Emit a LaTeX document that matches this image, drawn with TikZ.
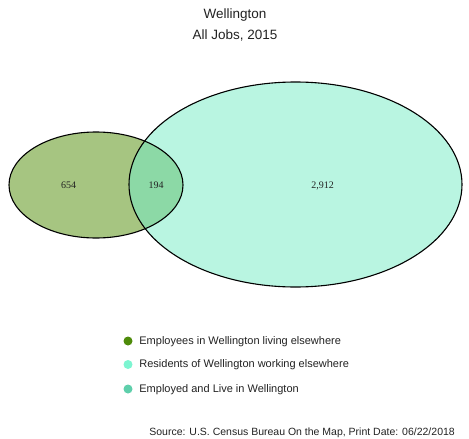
\documentclass[tikz,border=0pt]{standalone}
\usepackage{fontspec}
\setmainfont{Liberation Sans}
\newfontfamily\countfont{Liberation Serif}
\usepackage{tikz}
\usetikzlibrary{shapes.geometric,positioning}
\usepackage{xcolor}
\definecolor{wlolive}{HTML}{A6C581}
\definecolor{wlmint}{HTML}{B9F5E1}
\definecolor{wlboth}{HTML}{8CD9A6}
\definecolor{wldark}{HTML}{4E8B0A}
\definecolor{wllight}{HTML}{7DF5D1}
\definecolor{wlmid}{HTML}{5ECFAB}
\definecolor{wltext}{HTML}{222222}
\tikzstyle{venn} = [ellipse, inner sep=0pt, outer sep=0pt]
\tikzstyle{outline} = [draw=black, line width=1.1pt]
\tikzstyle{count} = [font=\countfont\fontsize{10}{12}\selectfont, text=wltext, inner sep=0pt]
\tikzstyle{heading} = [font=\fontsize{13.5}{16}\selectfont, text=wltext, inner sep=0pt, anchor=base]
\tikzstyle{dot} = [circle, minimum size=9pt, inner sep=0pt]
\tikzstyle{legend} = [font=\fontsize{11}{13}\selectfont, text=wltext, inner sep=0pt, text height=8pt, text depth=2pt]

\begin{document}
\begin{tikzpicture}[x=1pt, y=-1pt]
    \useasboundingbox (0,0) rectangle (469,439);
    % Title
    \node[heading] (place) at (235,19) {Wellington};
    \node[heading] (jobs) at (235,39) {All Jobs, 2015};

    % Ellipses
    \node[venn, fill=wlolive, minimum width=174pt, minimum height=106pt] (work) at (96,185) {};
    \node[venn, fill=wlmint, minimum width=333pt, minimum height=205pt] (home) at (295.5,184.5) {};
    \begin{scope}
        \clip (work.center) ellipse [x radius=87, y radius=53];
        \fill[wlboth] (home.center) ellipse [x radius=166.5, y radius=102.5];
    \end{scope}
    \draw[outline] (work.center) ellipse [x radius=87, y radius=53];
    \draw[outline] (home.center) ellipse [x radius=166.5, y radius=102.5];

    % Counts
    \node[count] (only) at (68.5,185.5) {654};
    \node[count] (both) at (156,185.5) {194};
    \node[count] (away) at (322.5,185.5) {2,912};

    % Legend
    \node[dot, fill=wldark] (dot1) at (128,341) {};
    \node[dot, fill=wllight] (dot2) at (128,364.5) {};
    \node[dot, fill=wlmid] (dot3) at (128,389) {};
    \node[legend, right=6.5pt of dot1] (lab1) {Employees in Wellington living elsewhere};
    \node[legend, right=6.5pt of dot2] (lab2) {Residents of Wellington working elsewhere};
    \node[legend, right=6.5pt of dot3] (lab3) {Employed and Live in Wellington};

    % Source
    \node[font=\fontsize{10.5}{12}\selectfont, text=wltext, inner sep=0pt, anchor=base east] (source) at (455,435) {Source: U.S. Census Bureau On the Map, Print Date: 06/22/2018};
\end{tikzpicture}
\end{document}
